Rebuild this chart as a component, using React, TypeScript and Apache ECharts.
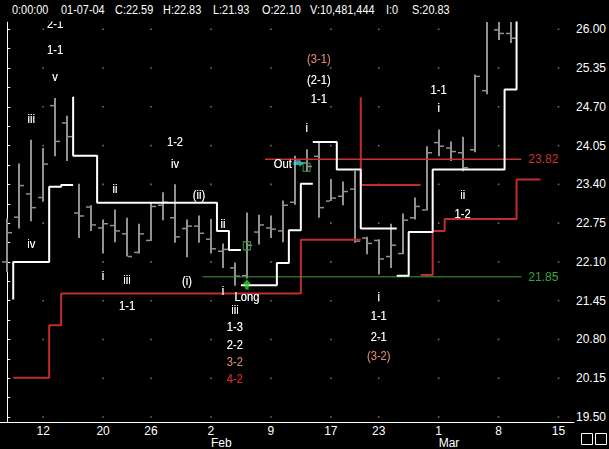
import React, { useEffect, useRef } from "react";
import * as echarts from "echarts";

const FONT = "'Liberation Sans', Arial, sans-serif";

// trading days from 2004-01-07 (index 0) ... ticks on the date axis
const dateTickIndex = [3, 8, 12, 17, 22, 27, 31, 36, 41, 46];
const dateTickLabels = ["12", "20", "26", "2", "9", "17", "23", "1", "8", "15"];
const monthTickIndex = [17, 36];
const monthLabels = ["Feb", "Mar"];
const priceTicks = [19.5, 20.15, 20.8, 21.45, 22.1, 22.75, 23.4, 24.05, 24.7, 25.35, 26.0];

// daily OHLC (index 0 = Jan 7 2004)
const opens = [22.10, 22.85, 23.24, 23.18, 24.72, 24.43, 22.92, 23.02, 22.67, 22.71, 22.57, 22.26, 22.46, 23.05, 22.84, 22.66, 22.70, 22.48, 22.28, 22.00, 21.87, 22.60, 22.67, 22.62, 23.10, 23.76, 23.87, 23.12, 23.20, 23.32, 22.50, 22.46, 22.19, 22.24, 22.84, 22.97, 24.10, 24.01, 23.93, 23.98, 24.97, 25.99, 25.93];
const highs = [22.83, 23.75, 24.15, 24.01, 24.85, 24.55, 23.41, 23.05, 22.81, 22.98, 22.84, 22.74, 23.09, 23.27, 23.40, 22.81, 22.88, 22.82, 22.41, 22.09, 22.93, 22.89, 22.88, 23.13, 23.88, 23.99, 24.10, 23.49, 23.45, 23.63, 22.52, 22.48, 22.74, 22.91, 23.18, 24.04, 24.32, 24.12, 24.20, 25.24, 26.30, 26.30, 26.30];
const lows = [21.93, 22.66, 22.78, 23.11, 23.87, 23.79, 22.50, 22.62, 22.24, 22.43, 22.19, 22.24, 22.45, 22.80, 22.42, 22.18, 22.42, 22.24, 22.00, 21.70, 21.82, 22.39, 22.50, 22.43, 23.06, 23.62, 22.84, 23.12, 23.05, 22.42, 22.23, 21.89, 22.00, 22.23, 22.81, 22.96, 23.87, 23.79, 23.62, 23.94, 24.91, 25.82, 25.77];
const closes = [22.59, 23.38, 23.01, 23.74, 24.12, 24.20, 22.87, 22.72, 22.74, 22.62, 22.19, 22.57, 23.03, 23.10, 22.52, 22.70, 22.58, 22.32, 22.31, 21.86, 22.38, 22.72, 22.65, 23.05, 23.79, 23.70, 23.01, 23.17, 23.28, 22.45, 22.41, 22.15, 22.38, 22.80, 23.03, 23.93, 24.04, 23.95, 23.68, 25.21, 26.25, 25.93, 25.85];

const headerTime = "0:00:00";
const headerDate = "01-07-04";
const headerVolume = "10,481,444";
const headerI = "0";
const headerS = "20.83";

// white stop-and-reverse line (daily levels)
const sarPiece1 = { start: 1, from: 21.47, levels: [22.10, 22.10, 22.10, 23.36, 23.39] };
const sarPiece2 = { start: 6, from: 24.87, levels: [23.88, 23.88, 23.09, 23.09, 23.09, 23.09, 23.09, 23.09, 23.09, 23.09, 23.09, 23.09, 22.62, 22.30] };
const sarPiece3 = { start: 20, levels: [21.71, 21.71, 21.71, 22.08, 22.63, 23.41] };
const sarPiece4 = { start: 26, levels: [24.11, 24.11, 23.65, 23.65, 22.66, 22.66, 22.66] };
const sarPiece5 = { start: 33, levels: [21.87, 22.60, 22.60, 23.65, 23.65, 23.65, 23.65, 23.65, 23.65, 24.99], to: 26.4 };

// red (slower) stop line
const redPiece1 = { start: 1, levels: [20.16, 20.16, 20.16, 21.04, 21.57, 21.57, 21.57, 21.57, 21.57, 21.57, 21.57, 21.57, 21.57, 21.57, 21.57, 21.57, 21.57, 21.57, 21.57, 21.57, 21.57, 21.57, 21.57, 21.57, 22.47, 22.47, 22.47, 22.47, 22.47] };
const redPiece2 = { start: 30, from: 24.86, levels: [23.39, 23.39, 23.39, 23.39, 23.39] };
const redPiece3 = { start: 35, levels: [21.88, 22.62, 22.82, 22.82, 22.82, 22.82, 22.82, 22.82, 23.48, 23.48] };

// horizontal levels
const greenLevel = 21.85;
const greenFrom = 16.3;
const redLevel = 23.82;
const redFrom = 21.5;
const levelTo = 42.9;

// signals
const longSignal = [20, 21.72];
const outSignal = [24.3, 23.75];
const fillMarks = [[20, 22.37], [24.98, 23.685]];

// wave annotations: [day, price, text, colour key]
const waveLabels: [number, number, string, string][] = [
  [4, 26.1, "2-1", "w"], [4, 25.65, "1-1", "w"], [4, 25.2, "v", "w"],
  [2, 24.5, "iii", "w"], [2, 22.41, "iv", "w"],
  [9, 23.33, "ii", "w"], [8, 21.87, "i", "w"], [10, 21.81, "iii", "w"], [10, 21.36, "1-1", "w"],
  [14, 24.12, "1-2", "w"], [14, 23.75, "iv", "w"], [16, 23.23, "(ii)", "w"], [18, 22.74, "ii", "w"],
  [15, 21.79, "(i)", "w"], [18, 21.62, "i", "w"], [20, 21.52, "Long", "w"],
  [19, 21.3, "iii", "w"], [19, 21.02, "1-3", "w"], [19, 20.72, "2-2", "w"], [19, 20.42, "3-2", "s"], [19, 20.14, "4-2", "r"],
  [23.0, 23.75, "Out", "w"],
  [26, 25.5, "(3-1)", "s"], [26, 25.15, "(2-1)", "w"], [26, 24.83, "1-1", "w"], [25, 24.35, "i", "w"],
  [31, 21.52, "i", "w"], [31, 21.19, "1-1", "w"], [31, 20.85, "2-1", "w"], [31, 20.52, "(3-2)", "s"],
  [36, 24.99, "1-1", "w"], [36, 24.68, "i", "w"], [38, 23.23, "ii", "w"], [38, 22.91, "1-2", "w"],
];

const COLORS: Record<string, string> = { w: "#ffffff", s: "#d4826a", r: "#d42a2a" };
const BAR = "#919191";

type Piece = { start: number; from?: number; levels: number[]; to?: number };
function stepPoints(p: Piece) {
  const pts: number[][] = [];
  if (p.from != null) pts.push([p.start - 0.5, p.from]);
  p.levels.forEach((v, i) => {
    const d = p.start + i;
    pts.push([d - 0.5, v]);
    pts.push([d + 0.5, v]);
  });
  if (p.to != null) pts.push([p.start + p.levels.length - 0.5, p.to]);
  return pts;
}

const Y_MIN = 19.5 - 5 / 59.8;
const Y_MAX = 26.122;
const X_MIN = -0.603;
const X_MAX = 47.29;

export default function App() {
  const ref = useRef<HTMLDivElement>(null);
  useEffect(() => {
    if (!ref.current) return;
    const chart = echarts.init(ref.current, undefined, { renderer: "svg" });
    const ohlc = opens.map((o, i) => [i, o, highs[i], lows[i], closes[i]]);
    const minorTicks: number[] = [];
    priceTicks.forEach((t, i) => {
      minorTicks.push(t);
      if (i < priceTicks.length - 1) minorTicks.push(+((t + priceTicks[i + 1]) / 2).toFixed(3));
    });
    const dots: number[][] = [];
    dateTickIndex.forEach((d) => priceTicks.forEach((p) => dots.push([d, p])));

    const stepSeries = (pieces: Piece[], color: string, width: number, z: number) =>
      pieces.map((p) => ({
        type: "line",
        data: stepPoints(p),
        showSymbol: false,
        symbol: "none",
        clip: true,
        silent: true,
        z,
        lineStyle: { color, width },
      }));

    const levelLine = (level: number, from: number, color: string, width: number) => ({
      type: "line",
      data: [[from, level], [levelTo, level]],
      showSymbol: false,
      symbol: "none",
      silent: true,
      z: 3,
      lineStyle: { color, width },
      endLabel: {
        show: true,
        formatter: () => level.toFixed(2),
        color,
        fontFamily: FONT,
        fontSize: 12,
        distance: 7,
      },
    });

    const header = [
      [12, headerTime], [61, headerDate], [115, `C:${closes[0].toFixed(2)}`], [163, `H:${highs[0].toFixed(2)}`],
      [213, `L:${lows[0].toFixed(2)}`], [262, `O:${opens[0].toFixed(2)}`], [310, `V:${headerVolume}`],
      [386, `I:${headerI}`], [412, `S:${headerS}`],
    ];

    chart.setOption({
      animation: false,
      backgroundColor: "#000000",
      grid: { left: 0, right: 33.5, top: 22, bottom: 26, containLabel: false },
      xAxis: [
        {
          type: "value",
          min: X_MIN,
          max: X_MAX,
          position: "bottom",
          axisLine: { show: true, lineStyle: { color: "#ffffff", width: 1 } },
          axisTick: { show: false },
          splitLine: { show: false },
          axisLabel: {
            customValues: dateTickIndex,
            formatter: (v: number) => dateTickLabels[dateTickIndex.indexOf(Math.round(v))] ?? "",
            color: "#ffffff",
            fontFamily: FONT,
            fontSize: 12,
            margin: 3,
          },
        },
        {
          type: "value",
          min: X_MIN,
          max: X_MAX,
          position: "bottom",
          offset: 12,
          axisLine: { show: false },
          axisTick: { show: false },
          splitLine: { show: false },
          axisLabel: {
            customValues: monthTickIndex,
            formatter: (v: number) => monthLabels[monthTickIndex.indexOf(Math.round(v))] ?? "",
            color: "#ffffff",
            fontFamily: FONT,
            fontSize: 12,
            margin: 3,
            align: "left",
          },
        },
      ],
      yAxis: {
        type: "value",
        position: "right",
        min: Y_MIN,
        max: Y_MAX,
        axisLine: { show: true, lineStyle: { color: "#ffffff", width: 1 } },
        axisTick: { show: true, customValues: minorTicks, length: 3, inside: false, lineStyle: { color: "#ffffff" } },
        splitLine: { show: false },
        axisLabel: {
          customValues: priceTicks,
          formatter: (v: number) => v.toFixed(2),
          color: "#ffffff",
          fontFamily: FONT,
          fontSize: 12,
          margin: 2,
        },
      },
      series: [
        {
          type: "scatter",
          data: dots,
          symbol: "rect",
          symbolSize: 1.6,
          itemStyle: { color: "#8a8a8a" },
          silent: true,
          z: 1,
        },
        {
          type: "custom",
          data: ohlc,
          clip: true,
          z: 2,
          encode: { x: 0, y: [1, 2, 3, 4] },
          renderItem: (params: any, api: any) => {
            const i = api.value(0);
            const o = api.coord([i, api.value(1)]);
            const h = api.coord([i, api.value(2)]);
            const l = api.coord([i, api.value(3)]);
            const c = api.coord([i, api.value(4)]);
            const x = Math.round(h[0]);
            const style = { fill: BAR };
            return {
              type: "group",
              children: [
                { type: "rect", shape: { x: x - 1, y: h[1], width: 2, height: l[1] - h[1] }, style },
                { type: "rect", shape: { x: x - 5, y: o[1] - 0.75, width: 4, height: 1.5 }, style },
                { type: "rect", shape: { x: x + 1, y: c[1] - 0.75, width: 4, height: 1.5 }, style },
              ],
            };
          },
        },
        ...stepSeries([redPiece1, redPiece2, redPiece3], "#c42c2c", 2, 3),
        levelLine(greenLevel, greenFrom, "#3fa03f", 1),
        levelLine(redLevel, redFrom, "#c83434", 1.5),
        ...stepSeries([sarPiece1, sarPiece2, sarPiece3, sarPiece4, sarPiece5], "#ffffff", 2, 4),
        {
          type: "scatter",
          data: fillMarks,
          symbol: "rect",
          symbolSize: [7, 8],
          itemStyle: { color: "rgba(0,0,0,0)", borderColor: "#3fa03f", borderWidth: 1.3 },
          silent: true,
          z: 5,
        },
        {
          type: "scatter",
          data: [longSignal],
          symbol: "path://M5,0 L10,5 L7,5 L7,10 L3,10 L3,5 L0,5 Z",
          symbolSize: [9, 10],
          itemStyle: { color: "#22dd22" },
          silent: true,
          z: 5,
        },
        {
          type: "scatter",
          data: [outSignal],
          symbol: "path://M0,3 L6,3 L6,0 L10,5 L6,10 L6,7 L0,7 Z",
          symbolSize: [10, 7],
          itemStyle: { color: "#33ddee" },
          silent: true,
          z: 5,
        },
      ],
    });

    // wave annotations placed through the chart's own scales
    const annotationTexts = waveLabels.map(([d, p, t, k]) => {
      const pt = chart.convertToPixel({ gridIndex: 0 }, [d, p]) as number[];
      return {
        type: "text",
        z: 50,
        x: pt[0],
        y: pt[1],
        scaleX: 0.86,
        style: {
          text: t,
          fill: COLORS[k],
          font: `13px ${FONT}`,
          textAlign: "center",
          textVerticalAlign: "middle",
          textShadowColor: "rgba(0,0,0,1)",
          textShadowBlur: 1,
          shadowColor: "rgba(0,0,0,1)",
          shadowBlur: 1,
        },
      };
    });

    chart.setOption({
      graphic: [
        ...annotationTexts,
        { type: "rect", z: 100, shape: { x: 0, y: 0, width: 575, height: 21.5 }, style: { fill: "#000000" } },
        ...header.map(([x, t]) => ({
          type: "text",
          z: 101,
          x: x as number,
          y: 10,
          scaleX: 0.84,
          style: { text: t as string, fill: "#ffffff", font: `13px ${FONT}`, textVerticalAlign: "middle" },
        })),
        { type: "rect", z: 101, shape: { x: 581.5, y: 433.5, width: 11, height: 11 }, style: { fill: "none", stroke: "#ffffff", lineWidth: 1 } },
        { type: "rect", z: 101, shape: { x: 595.5, y: 433.5, width: 11, height: 11 }, style: { fill: "none", stroke: "#ffffff", lineWidth: 1 } },
      ],
    });
    return () => chart.dispose();
  }, []);
  return <div ref={ref} style={{ position: "fixed", left: 0, top: 0, width: 609, height: 449, background: "#000" }} />;
}
